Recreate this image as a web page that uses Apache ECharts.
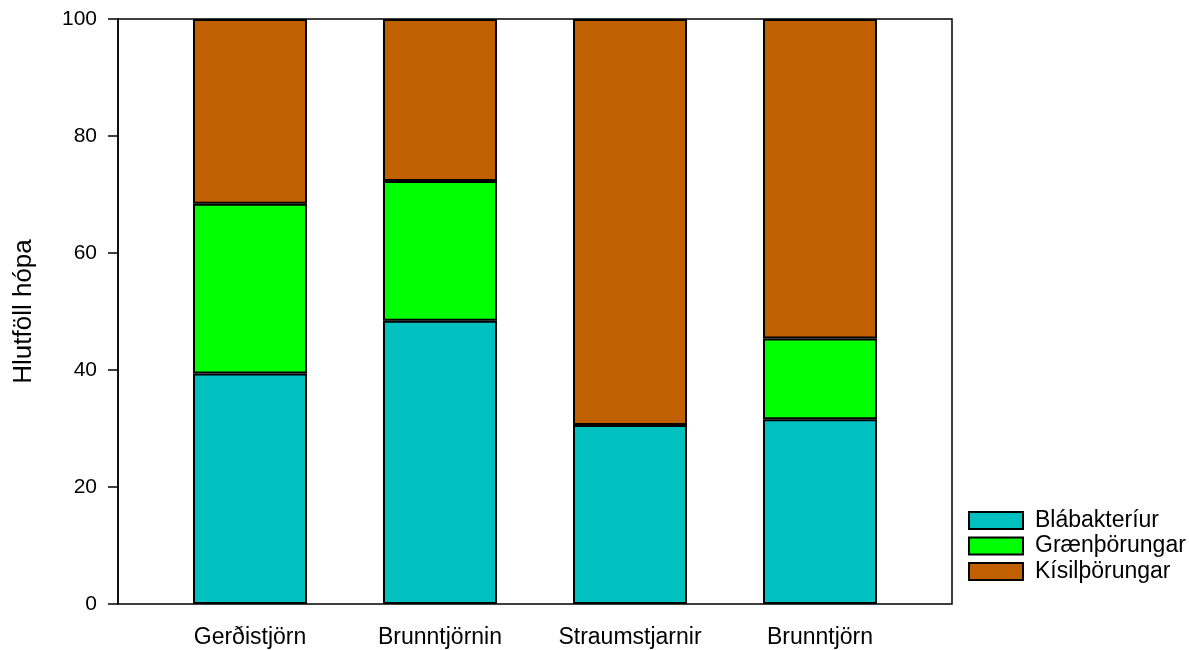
<!DOCTYPE html>
<html>
<head>
<meta charset="utf-8">
<script src="https://cdn.jsdelivr.net/npm/echarts@6/dist/echarts.min.js"></script>
<style>
    html, body { margin: 0; padding: 0; background: #fff; }
    #chart { width: 1189px; height: 650px; }
</style>
</head>
<body>
<div id="chart"></div>
<script>
var lakes = ['Gerðistjörn', 'Brunntjörnin', 'Straumstjarnir', 'Brunntjörn'];
var blabakteriur = [39.4, 48.4, 30.6, 31.6];
var graenthorungar = [29.0, 23.9, 0, 13.8];
var kisilthorungar = [31.6, 27.7, 69.4, 54.6];
var groupNames = ['Blábakteríur', 'Grænþörungar', 'Kísilþörungar'];
var yTicks = [0, 20, 40, 60, 80, 100];

var font = 'Arial, "Liberation Sans", sans-serif';

var mychart = echarts.init(document.getElementById('chart'));

function barSeries(name, data, color) {
    return {
        name: name,
        type: 'bar',
        stack: 'total',
        barWidth: 114,
        xAxisIndex: 1,
        yAxisIndex: 1,
        // empty groups are left out so no extra edge is drawn
        data: data.map(function (v) { return v === 0 ? '-' : v; }),
        itemStyle: {
            color: color,
            borderColor: '#000',
            borderWidth: 2
        }
    };
}

var option = {
    animation: false,
    backgroundColor: '#fff',
    textStyle: { fontFamily: font },
    grid: [
        // frame + y axis
        {
            left: 118, right: 237, top: 19, bottom: 46,
            outerBoundsMode: 'none',
            show: true,
            borderColor: '#000',
            borderWidth: 1.5,
            backgroundColor: 'transparent'
        },
        // bars, inset inside the frame
        { left: 155, right: 274, top: 19, bottom: 46, outerBoundsMode: 'none' }
    ],
    legend: {
        orient: 'vertical',
        left: 968,
        top: 509,
        padding: 0,
        icon: 'rect',
        itemWidth: 54,
        itemHeight: 17,
        itemGap: 2.5,
        data: groupNames,
        textStyle: { fontSize: 23, color: '#000', fontFamily: font, padding: [0, 0, 0, 7] }
    },
    xAxis: [
        { type: 'category', gridIndex: 0, data: lakes, show: false },
        {
            type: 'category',
            gridIndex: 1,
            data: lakes,
            axisLine: { show: false },
            axisTick: { alignWithLabel: true, length: 9, lineStyle: { color: '#000', width: 1.5 } },
            axisLabel: { color: '#000', fontSize: 23, margin: 22, fontFamily: font }
        }
    ],
    yAxis: [
        {
            type: 'value',
            gridIndex: 0,
            min: yTicks[0],
            max: yTicks[yTicks.length - 1],
            interval: 20,
            name: 'Hlutföll hópa',
            nameLocation: 'middle',
            nameGap: 81,
            nameTextStyle: { color: '#000', fontSize: 26, fontFamily: font },
            splitLine: { show: false },
            axisLine: { show: true, lineStyle: { color: '#000', width: 1.5 } },
            axisTick: { show: true, length: 10, lineStyle: { color: '#000', width: 1.5 } },
            axisLabel: { color: '#000', fontSize: 21, margin: 21, fontFamily: font }
        },
        {
            type: 'value',
            gridIndex: 1,
            min: yTicks[0],
            max: yTicks[yTicks.length - 1],
            show: false,
            splitLine: { show: false }
        }
    ],
    series: [
        barSeries(groupNames[0], blabakteriur, '#00C0C0'),
        barSeries(groupNames[1], graenthorungar, '#00FF00'),
        barSeries(groupNames[2], kisilthorungar, '#C06000')
    ]
};

mychart.setOption(option);
</script>
</body>
</html>
